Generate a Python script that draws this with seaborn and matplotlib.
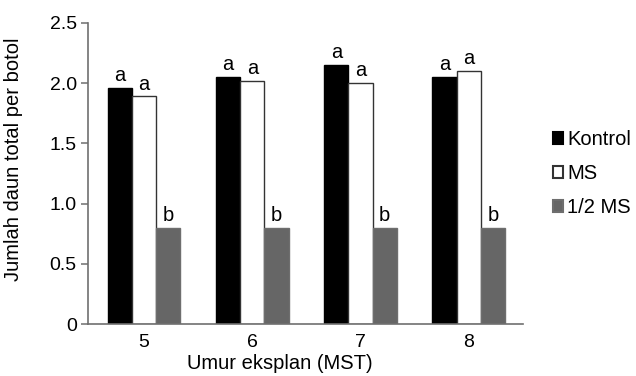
import pandas as pd
import matplotlib.pyplot as plt
import seaborn as sns

# Data
umur = ["5", "6", "7", "8"]
kontrol = [1.96, 2.05, 2.15, 2.05]
ms = [1.89, 2.02, 2.00, 2.10]
half_ms = [0.80, 0.80, 0.80, 0.80]
perlakuan = ["Kontrol", "MS", "1/2 MS"]
huruf = [["a", "a", "a", "a"], ["a", "a", "a", "a"], ["b", "b", "b", "b"]]

# Long-form table for seaborn
df = pd.DataFrame({
    "Umur": umur * 3,
    "Jumlah": kontrol + ms + half_ms,
    "Perlakuan": ["Kontrol"] * 4 + ["MS"] * 4 + ["1/2 MS"] * 4,
})

sns.set_style("white")
plt.rcParams["font.family"] = ["Liberation Sans", "DejaVu Sans"]
plt.rcParams["text.color"] = "black"
plt.rcParams["axes.labelcolor"] = "black"
plt.rcParams["xtick.color"] = "black"
plt.rcParams["ytick.color"] = "black"

fig = plt.figure(figsize=(6.36, 3.76), dpi=100)
ax = fig.add_axes([0.138, 0.138, 0.684, 0.801])

colors = {"Kontrol": "#000000", "MS": "#ffffff", "1/2 MS": "#666666"}
edges = {"Kontrol": "#000000", "MS": "#333333", "1/2 MS": "#6e6e6e"}

sns.barplot(data=df, x="Umur", y="Jumlah", hue="Perlakuan", hue_order=perlakuan,
            palette=colors, width=0.67, saturation=1, ax=ax, legend=False)

# edges and significance letters
for cont, name, labels in zip(ax.containers, perlakuan, huruf):
    for bar in cont:
        bar.set_edgecolor(edges[name])
        bar.set_linewidth(1.0)
    ax.bar_label(cont, labels=labels, padding=2, fontsize=14.5, color="black")

ax.set_xlim(-0.52, 3.5)
ax.set_ylim(0, 2.5)
ax.set_yticks([0, 0.5, 1.0, 1.5, 2.0, 2.5])
ax.set_yticklabels(["0", "0.5", "1.0", "1.5", "2.0", "2.5"])

for s in ["top", "right"]:
    ax.spines[s].set_visible(False)
for s in ["left", "bottom"]:
    ax.spines[s].set_color("#6f6f6f")
    ax.spines[s].set_linewidth(1.2)

ax.tick_params(axis="y", left=True, length=5, width=1.1, color="#6f6f6f",
               labelcolor="black", labelsize=14, pad=3)
ax.tick_params(axis="x", bottom=False, length=0, labelcolor="black", labelsize=14, pad=7)

ax.set_xlabel("Umur eksplan (MST)", fontsize=14.5, color="black")
ax.set_ylabel("Jumlah daun total per botol", fontsize=14.5, color="black")
ax.xaxis.set_label_coords(0.441, -0.1)
ax.yaxis.set_label_coords(-0.15, 0.548)

# legend on the right
handles = [plt.Rectangle((0, 0), 1, 1, facecolor=colors[p], edgecolor=edges[p], linewidth=1.5)
           for p in perlakuan]
ax.legend(handles, perlakuan, loc="center left", bbox_to_anchor=(1.069, 0.5),
          frameon=False, fontsize=14.5, handlelength=0.5, handleheight=0.5,
          handletextpad=0.2, labelspacing=0.75, borderaxespad=0, borderpad=0,
          labelcolor="black")

fig.savefig("out.png", dpi=100)
